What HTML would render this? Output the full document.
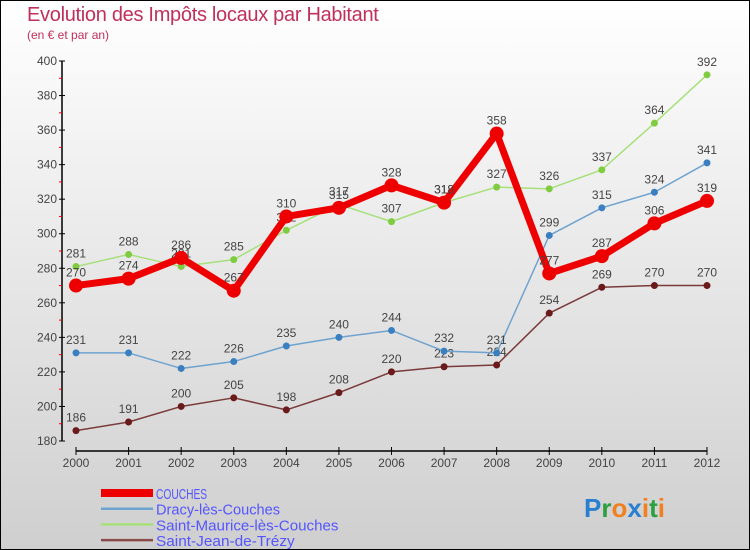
<!DOCTYPE html>
<html><head><meta charset="utf-8"><style>
body{margin:0;}
#wrap{position:relative;width:748px;height:548px;border:1px solid #000;background:linear-gradient(#ffffff,#cfcfcf);font-family:"Liberation Sans",sans-serif;overflow:hidden}
.t{position:absolute;color:#c0305a;white-space:nowrap}
svg{position:absolute;left:0;top:0}
</style></head><body>
<div id="wrap">
<div class="t" style="left:26px;top:3px;font-size:20px;letter-spacing:-0.3px">Evolution des Impôts locaux par Habitant</div>
<div class="t" style="left:26px;top:27px;font-size:12px">(en € et par an)</div>
<svg id="c" width="750" height="550"></svg>
</div>
<script>
const years=[2000,2001,2002,2003,2004,2005,2006,2007,2008,2009,2010,2011,2012];
const couches=[270,274,286,267,310,315,328,318,358,277,287,306,319];
const dracy=[231,231,222,226,235,240,244,232,231,299,315,324,341];
const maurice=[281,288,281,285,302,317,307,318,327,326,337,364,392];
const jean=[186,191,200,205,198,208,220,223,224,254,269,270,270];
const yTicks=[180,200,220,240,260,280,300,320,340,360,380,400];
const names=["COUCHES","Dracy-lès-Couches","Saint-Maurice-lès-Couches","Saint-Jean-de-Trézy"];
const NS="http://www.w3.org/2000/svg";
const svg=document.getElementById('c');
const X=i=>75+i*(706-75)/(years.length-1);
const Y=v=>440-(v-180)*(380/220);
function el(t,a,p){const e=document.createElementNS(NS,t);for(const k in a)e.setAttribute(k,a[k]);(p||svg).appendChild(e);return e;}
// axes
let ax=el('line',{x1:61,y1:60,x2:61,y2:440,stroke:'#000','stroke-width':1.5});


let xa=el('line',{x1:75,y1:450,x2:706,y2:450,stroke:'#000','stroke-width':1.5});


yTicks.forEach(v=>{
 el('line',{x1:58,y1:Y(v),x2:64,y2:Y(v),stroke:'#000'});
 if(v<400) el('line',{x1:58,y1:Y(v+10),x2:61,y2:Y(v+10),stroke:'#f00'});
 const t=el('text',{x:56,y:Y(v)+4,'text-anchor':'end','font-size':12,fill:'#444'});
 t.textContent=v;
 
 
});
years.forEach((yr,i)=>{
 el('line',{x1:X(i),y1:446,x2:X(i),y2:454,stroke:'#000'});
 const t=el('text',{x:X(i),y:466,'text-anchor':'middle','font-size':12,fill:'#444'});
 t.textContent=yr;
 
 
});
function series(data,color,dot,w,r,name){
 const g=el('g',{});
 
 
 el('polyline',{points:data.map((v,i)=>X(i)+','+Y(v)).join(' '),fill:'none',stroke:color,'stroke-width':w,'stroke-linejoin':'round'},g);
 data.forEach((v,i)=>{
  const c=el('circle',{cx:X(i),cy:Y(v),r:r,fill:dot},g);
  
  
  const t=el('text',{x:X(i),y:Y(v)-9,'text-anchor':'middle','font-size':12,fill:'#444'},g);
  t.textContent=v;
 });
}
series(jean,'#7a3a3a','#6a1a1a',1.5,3.5,'series-saint-jean');
series(dracy,'#6fa3cf','#3a80c0',1.5,3.5,'series-dracy');
series(maurice,'#a6e07a','#80cc40',1.5,3.5,'series-saint-maurice');
series(couches,'#ee0000','#ee0000',7,7,'series-couches');
// legend
const lc=['#ee0000','#6fa3cf','#a6e07a','#8a4a4a'];const lw=[8,2.5,2.5,2.5];
names.forEach((n,i)=>{
 const y=492+i*15.7;
 const l=el('line',{x1:100,y1:y,x2:152,y2:y,stroke:lc[i],'stroke-width':lw[i]});
 
 
 const t=el('text',{x:155,y:y+6,'font-size':15,fill:'#5555ff','textLength':n.length*7.3,'lengthAdjust':'spacingAndGlyphs'});
 t.textContent=n;
 
 
});
// logo
const lg=el('text',{x:583,y:516,'font-size':26,'font-weight':'bold'});


[['P','#2a7fd0'],['r','#2aa040'],['o','#f08020'],['x','#2a7fd0'],['i','#f08020'],['t','#2aa040'],['i','#f08020']].forEach(([c,f])=>{const s=el('tspan',{fill:f},lg);s.textContent=c;});
</script>
</body></html>
